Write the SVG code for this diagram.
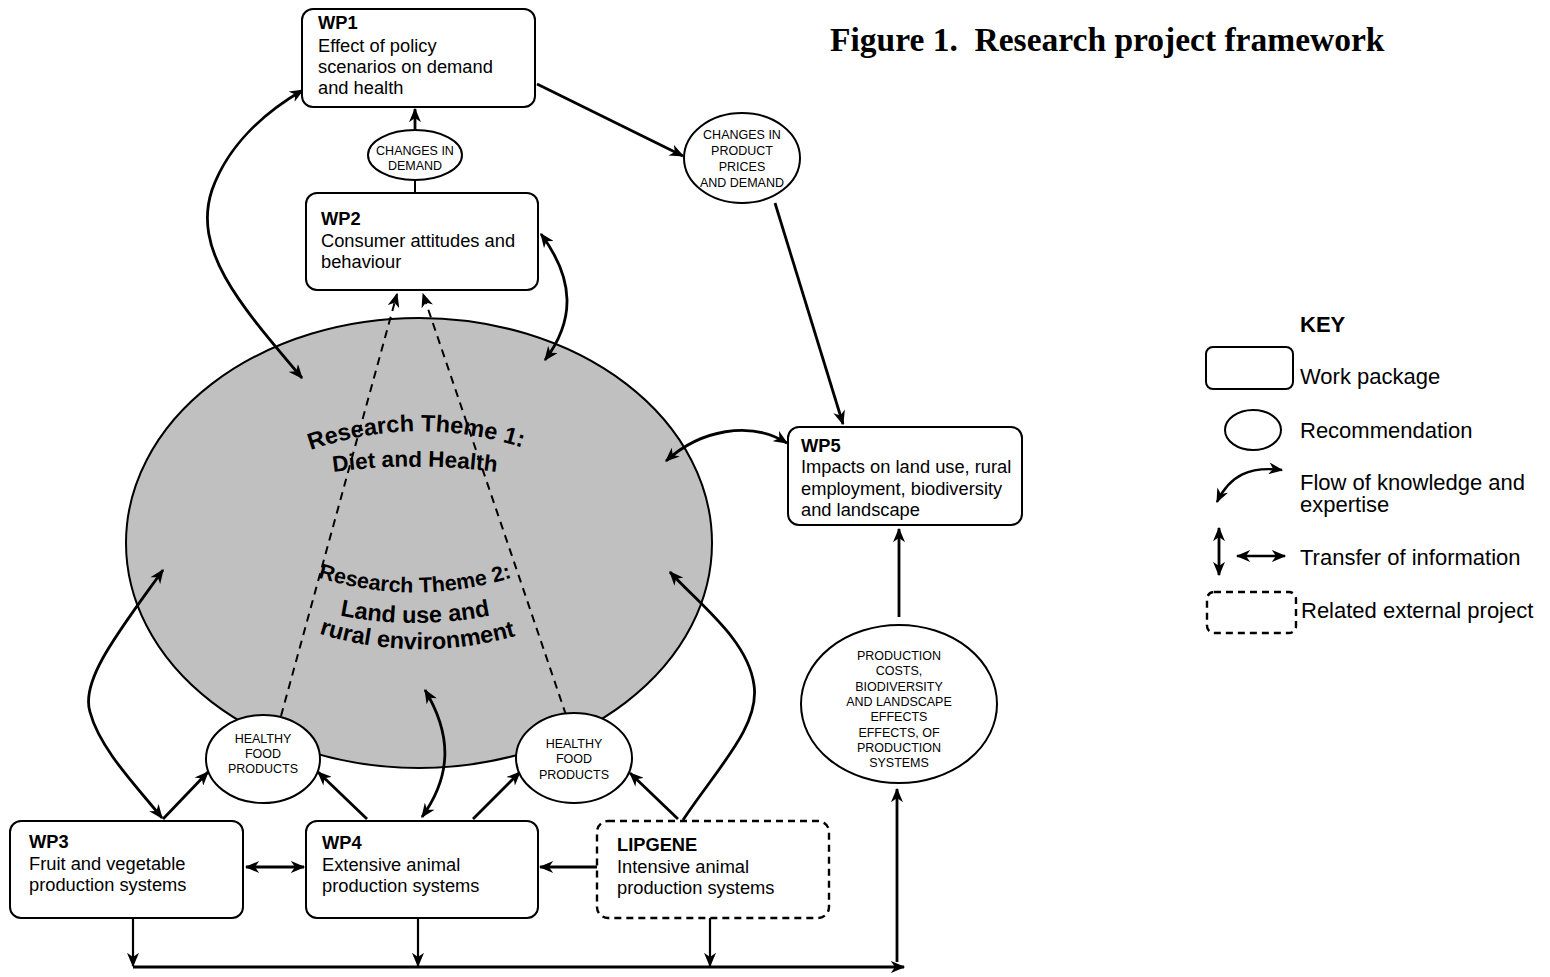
<svg xmlns="http://www.w3.org/2000/svg" width="1550" height="977" viewBox="0 0 1550 977">
<style>
.box{fill:#fff;stroke:#000;stroke-width:2}
.dbox{fill:#fff;stroke:#000;stroke-width:2.4;stroke-dasharray:7 5}
.rec{fill:#fff;stroke:#000;stroke-width:2}
.c{fill:none;stroke:#000;stroke-width:2.8}
.d{fill:none;stroke:#000;stroke-width:2;stroke-dasharray:8 6}
.t{font-family:"Liberation Sans",Arial,sans-serif;font-size:18.3px;fill:#000}
.b{font-weight:bold}
.s{font-family:"Liberation Sans",Arial,sans-serif;font-size:12.5px;text-anchor:middle;fill:#000}
.k{font-family:"Liberation Sans",Arial,sans-serif;font-size:22px;fill:#000}
.th{font-family:"Liberation Sans",Arial,sans-serif;font-weight:bold;fill:#000;text-anchor:middle}
</style>
<defs>
<marker id="ah" viewBox="0 0 12 10" refX="11" refY="5" markerWidth="15" markerHeight="12" orient="auto-start-reverse" markerUnits="userSpaceOnUse"><path d="M0,0 L12,5 L0,10 L3.5,5 z" fill="#000"/></marker>
<path id="p1" d="M 295 456 Q 415 408 538 453"/>
<path id="p2" d="M 320 474 Q 415 459 510 474"/>
<path id="p3" d="M 310 575 Q 415 610 520 575"/>
<path id="p4" d="M 320 611 Q 415 635 510 611"/>
<path id="p5" d="M 300 627 Q 415 670 535 630"/>
</defs>

<text x="830" y="51" font-family="'Liberation Serif','Times New Roman',serif" font-weight="bold" font-size="33.5" style="white-space:pre">Figure 1.  Research project framework</text>

<g id="theme">
<ellipse cx="419" cy="543" rx="293" ry="225" fill="#c0c0c0" stroke="#000" stroke-width="2"/>
<text class="th" font-size="23.5"><textPath href="#p1" startOffset="50%">Research Theme 1:</textPath></text>
<text class="th" font-size="22.5"><textPath href="#p2" startOffset="50%">Diet and Health</textPath></text>
<text class="th" font-size="21.5"><textPath href="#p3" startOffset="50%">Research Theme 2:</textPath></text>
<text class="th" font-size="23.5"><textPath href="#p4" startOffset="50%">Land use and</textPath></text>
<text class="th" font-size="23.5"><textPath href="#p5" startOffset="50%">rural environment</textPath></text>
</g>

<g id="connectors">
<path class="c" d="M 415 130 L 415 109" marker-end="url(#ah)"/>
<path class="c" d="M 415 180 L 415 193" style="stroke-width:2"/>
<path class="c" d="M 537 84 L 683 156" marker-end="url(#ah)"/>
<path class="c" d="M 775 203 L 843 424" marker-end="url(#ah)"/>
<path class="c" d="M 899 617 L 899 529" marker-end="url(#ah)"/>
<path class="c" d="M 302 378 C 240 305 192 250 212 190 C 228 145 265 112 303 90" marker-start="url(#ah)" marker-end="url(#ah)"/>
<path class="c" d="M 545 360 C 575 320 575 280 541 234" marker-start="url(#ah)" marker-end="url(#ah)"/>
<path class="c" d="M 666 461 C 700 430 750 420 787 443" marker-start="url(#ah)" marker-end="url(#ah)"/>
<path class="d" d="M 281 716 L 397 294" marker-end="url(#ah)"/>
<path class="d" d="M 566 715 L 423 294" marker-end="url(#ah)"/>
<path class="c" d="M 163 570 C 120 630 80 680 90 712 C 100 750 140 790 162 818" marker-start="url(#ah)" marker-end="url(#ah)"/>
<path class="c" d="M 425 690 C 452 735 452 775 422 817" marker-start="url(#ah)" marker-end="url(#ah)"/>
<path class="c" d="M 683 820 C 720 765 760 725 754 685 C 748 640 700 605 670 572" marker-end="url(#ah)"/>
<path class="c" d="M 163 819 L 208 772" marker-end="url(#ah)"/>
<path class="c" d="M 367 819 L 318 772" marker-end="url(#ah)"/>
<path class="c" d="M 473 819 L 520 772" marker-end="url(#ah)"/>
<path class="c" d="M 678 819 L 630 773" marker-end="url(#ah)"/>
<path class="c" d="M 246 867 L 304 867" marker-start="url(#ah)" marker-end="url(#ah)"/>
<path class="c" d="M 597 867 L 540 867" marker-end="url(#ah)"/>
<path class="c" d="M 133 918 L 133 966" style="stroke-width:2.2" marker-end="url(#ah)"/>
<path class="c" d="M 418 918 L 418 966" style="stroke-width:2.2" marker-end="url(#ah)"/>
<path class="c" d="M 710 918 L 710 966" style="stroke-width:2.2" marker-end="url(#ah)"/>
<path class="c" d="M 133 967 L 904 967" marker-end="url(#ah)"/>
<path class="c" d="M 897 962 L 897 789" marker-end="url(#ah)"/>
</g>

<g id="wp1">
<rect class="box" x="302" y="9" width="233" height="98" rx="11"/>
<text class="t b" x="318" y="29">WP1</text>
<text class="t" x="318" y="52">Effect of policy</text>
<text class="t" x="318" y="73">scenarios on demand</text>
<text class="t" x="318" y="94">and health</text>
</g>
<g id="changes-demand">
<ellipse class="rec" cx="415" cy="155" rx="47" ry="25"/>
<text class="s" x="415" y="155">CHANGES IN</text>
<text class="s" x="415" y="170">DEMAND</text>
</g>
<g id="wp2">
<rect class="box" x="306" y="193" width="232" height="97" rx="11"/>
<text class="t b" x="321" y="225">WP2</text>
<text class="t" x="321" y="247">Consumer attitudes and</text>
<text class="t" x="321" y="268">behaviour</text>
</g>
<g id="changes-prices">
<ellipse class="rec" cx="742" cy="158" rx="58" ry="45"/>
<text class="s" x="742" y="139">CHANGES IN</text>
<text class="s" x="742" y="155">PRODUCT</text>
<text class="s" x="742" y="171">PRICES</text>
<text class="s" x="742" y="187">AND DEMAND</text>
</g>
<g id="wp5">
<rect class="box" x="788" y="427" width="234" height="98" rx="11"/>
<text class="t b" x="801" y="452">WP5</text>
<text class="t" x="801" y="473">Impacts on land use, rural</text>
<text class="t" x="801" y="495">employment, biodiversity</text>
<text class="t" x="801" y="516">and landscape</text>
</g>
<g id="production-effects">
<ellipse class="rec" cx="899" cy="704" rx="98" ry="79"/>
<text class="s" x="899" y="660">PRODUCTION</text>
<text class="s" x="899" y="675">COSTS,</text>
<text class="s" x="899" y="691">BIODIVERSITY</text>
<text class="s" x="899" y="706">AND LANDSCAPE</text>
<text class="s" x="899" y="721">EFFECTS</text>
<text class="s" x="899" y="737">EFFECTS, OF</text>
<text class="s" x="899" y="752">PRODUCTION</text>
<text class="s" x="899" y="767">SYSTEMS</text>
</g>
<g id="healthy-1">
<ellipse class="rec" cx="263" cy="759" rx="57" ry="44"/>
<text class="s" x="263" y="743">HEALTHY</text>
<text class="s" x="263" y="758">FOOD</text>
<text class="s" x="263" y="773">PRODUCTS</text>
</g>
<g id="healthy-2">
<ellipse class="rec" cx="574" cy="758" rx="58" ry="45"/>
<text class="s" x="574" y="748">HEALTHY</text>
<text class="s" x="574" y="763">FOOD</text>
<text class="s" x="574" y="779">PRODUCTS</text>
</g>
<g id="wp3">
<rect class="box" x="10" y="821" width="233" height="97" rx="11"/>
<text class="t b" x="29" y="848">WP3</text>
<text class="t" x="29" y="870">Fruit and vegetable</text>
<text class="t" x="29" y="891">production systems</text>
</g>
<g id="wp4">
<rect class="box" x="306" y="821" width="232" height="97" rx="11"/>
<text class="t b" x="322" y="849">WP4</text>
<text class="t" x="322" y="871">Extensive animal</text>
<text class="t" x="322" y="892">production systems</text>
</g>
<g id="lipgene">
<rect class="dbox" x="597" y="821" width="232" height="97" rx="11"/>
<text class="t b" x="617" y="851">LIPGENE</text>
<text class="t" x="617" y="873">Intensive animal</text>
<text class="t" x="617" y="894">production systems</text>
</g>

<g id="key">
<text class="k b" x="1300" y="332">KEY</text>
<rect class="box" x="1206" y="347" width="87" height="42" rx="7"/>
<text class="k" x="1300" y="384">Work package</text>
<ellipse class="rec" cx="1253" cy="430" rx="28" ry="20"/>
<text class="k" x="1300" y="438">Recommendation</text>
<path class="c" d="M 1217 502 C 1230 475 1250 466 1282 470" style="stroke-width:2.4" marker-start="url(#ah)" marker-end="url(#ah)"/>
<text class="k" x="1300" y="490">Flow of knowledge and</text>
<text class="k" x="1300" y="512">expertise</text>
<path class="c" d="M 1219 528 L 1219 575" marker-start="url(#ah)" marker-end="url(#ah)"/>
<path class="c" d="M 1237 556 L 1285 556" style="stroke-width:2.4" marker-start="url(#ah)" marker-end="url(#ah)"/>
<text class="k" x="1300" y="565">Transfer of information</text>
<rect class="dbox" x="1207" y="592" width="89" height="41" rx="7"/>
<text class="k" x="1301" y="618">Related external project</text>
</g>
</svg>
